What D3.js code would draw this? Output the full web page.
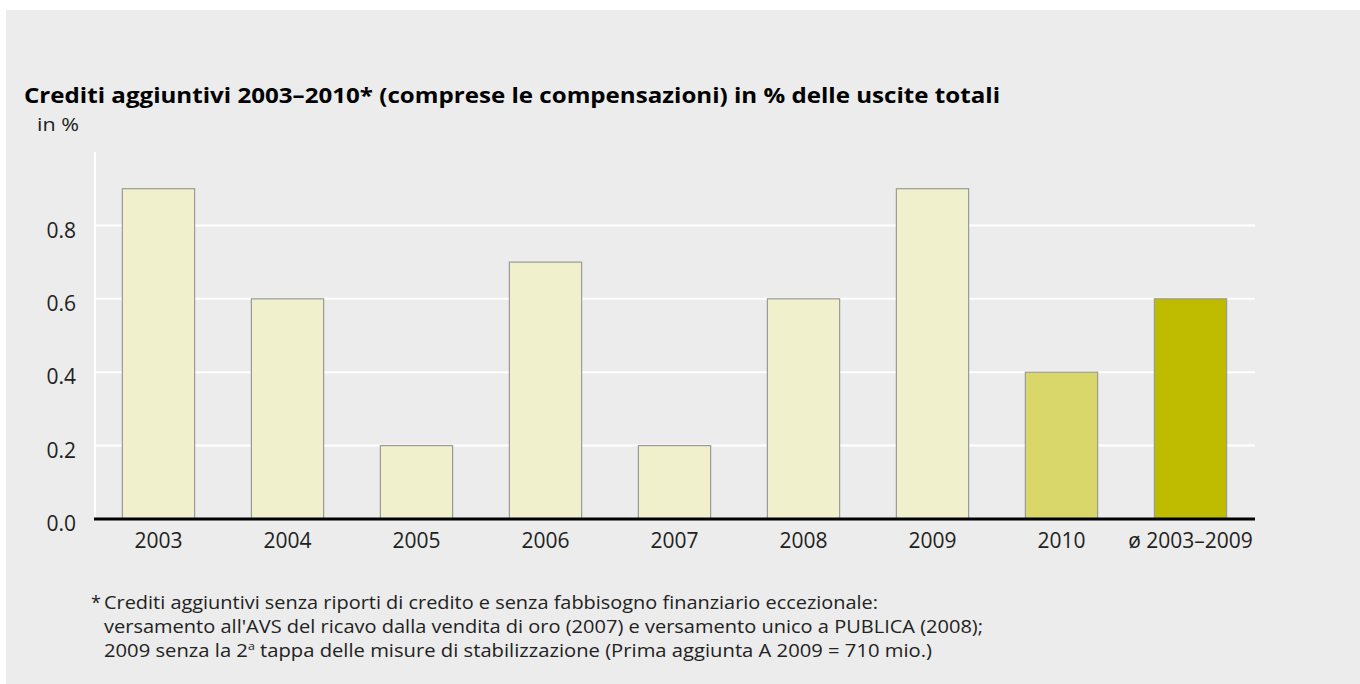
<!DOCTYPE html>
<html>
<head>
<meta charset="utf-8">
<script src="https://cdn.jsdelivr.net/npm/d3@7"></script>
<style>
  body { margin: 0; background: #fff; }
  svg { display: block; font-family: "Open Sans", "Noto Sans", sans-serif; }
</style>
</head>
<body>
<svg id="chart" width="1360" height="684"></svg>
<script>
// Data
const categories = ['2003', '2004', '2005', '2006', '2007', '2008', '2009', '2010', 'ø 2003–2009'];
const values = [0.9, 0.6, 0.2, 0.7, 0.2, 0.6, 0.9, 0.4, 0.6];
const barColors = ['#f0f0cc', '#f0f0cc', '#f0f0cc', '#f0f0cc', '#f0f0cc', '#f0f0cc', '#f0f0cc', '#d9d66a', '#bfbc00'];
const yTicks = [0, 0.2, 0.4, 0.6, 0.8];
const footnotes = [
  'Crediti aggiuntivi senza riporti di credito e senza fabbisogno finanziario eccezionale:',
  "versamento all'AVS del ricavo dalla vendita di oro (2007) e versamento unico a PUBLICA (2008);"
];
const footEnds = [878, 983, 932];

const svg = d3.select('#chart');

// Grey panel
svg.append('rect')
  .attr('x', 6).attr('y', 10)
  .attr('width', 1354).attr('height', 674)
  .attr('fill', '#ebeceb');

// Title
svg.append('text')
  .attr('x', 24).attr('y', 103)
  .attr('font-size', 21).attr('font-weight', 'bold')
  .attr('textLength', 976).attr('lengthAdjust', 'spacingAndGlyphs')
  .attr('fill', '#000')
  .text('Crediti aggiuntivi 2003–2010* (comprese le compensazioni) in % delle uscite totali');

svg.append('text')
  .attr('x', 37).attr('y', 131)
  .attr('font-size', 19).attr('fill', '#222')
  .attr('textLength', 42).attr('lengthAdjust', 'spacingAndGlyphs')
  .text('in %');

// Scales
const x = d3.scaleBand()
  .domain(categories)
  .range([94, 1255])
  .paddingInner(0.44)
  .paddingOuter(0.22);

const y = d3.scaleLinear()
  .domain([0, 1])
  .range([519, 152]);

// Grid lines
svg.append('g')
  .selectAll('line')
  .data(yTicks.filter((d) => d > 0))
  .join('line')
  .attr('x1', 94).attr('x2', 1255)
  .attr('y1', (d) => y(d)).attr('y2', (d) => y(d))
  .attr('stroke', '#fff').attr('stroke-width', 2);

// Y axis line
svg.append('line')
  .attr('x1', 95).attr('x2', 95)
  .attr('y1', y(1)).attr('y2', y(0))
  .attr('stroke', '#fff').attr('stroke-width', 2);

// Y tick labels
const yAxis = d3.axisLeft(y).tickValues(yTicks).tickFormat(d3.format('.1f')).tickSize(0).tickPadding(0);
const yg = svg.append('g').attr('transform', 'translate(76,5)').call(yAxis);
yg.select('.domain').remove();
yg.selectAll('text').attr('font-size', 21).attr('fill', '#222').attr('font-family', '"Open Sans", sans-serif');

// Bars
svg.append('g')
  .selectAll('rect')
  .data(categories)
  .join('rect')
  .attr('x', (d) => x(d))
  .attr('y', (d, i) => y(values[i]))
  .attr('width', x.bandwidth())
  .attr('height', (d, i) => y(0) - y(values[i]))
  .attr('fill', (d, i) => barColors[i])
  .attr('stroke', '#9a9a9a').attr('stroke-width', 1.2);

// Baseline
svg.append('line')
  .attr('x1', 94).attr('x2', 1255)
  .attr('y1', y(0)).attr('y2', y(0))
  .attr('stroke', '#000').attr('stroke-width', 3);

// X labels
const xAxis = d3.axisBottom(x).tickSize(0).tickPadding(0);
const xg = svg.append('g').attr('transform', `translate(0,${y(0) + 14})`).call(xAxis);
xg.select('.domain').remove();
xg.selectAll('text').attr('font-size', 21).attr('fill', '#222').attr('font-family', '"Open Sans", sans-serif');

// Footnote
const fn = svg.append('g').attr('font-size', 18).attr('fill', '#222');
fn.append('text').attr('x', 91).attr('y', 609).text('*');
footnotes.forEach((t, i) => {
  fn.append('text').attr('x', 104).attr('y', 609 + i * 24)
    .attr('textLength', footEnds[i] - 104).attr('lengthAdjust', 'spacingAndGlyphs')
    .text(t);
});
const last = fn.append('text').attr('x', 104).attr('y', 657)
  .attr('textLength', footEnds[2] - 104).attr('lengthAdjust', 'spacingAndGlyphs');
last.append('tspan').text('2009 senza la 2');
last.append('tspan').attr('dy', -7).attr('font-size', 11).text('a');
last.append('tspan').attr('dy', 7).text(' tappa delle misure di stabilizzazione (Prima aggiunta A 2009 = 710 mio.)');
</script>
</body>
</html>
